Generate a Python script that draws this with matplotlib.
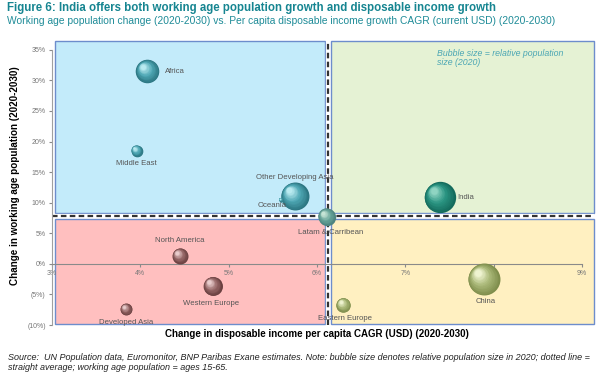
import numpy as np
import matplotlib.pyplot as plt
from matplotlib.patches import Rectangle
from matplotlib.transforms import ScaledTranslation
from matplotlib.colors import to_rgb

plt.rcParams['font.family'] = ['Liberation Sans', 'DejaVu Sans']

regions = ['Africa', 'Middle East', 'Other Developing Asia', 'Oceania', 'India',
           'Latam & Carribean', 'North America', 'Western Europe', 'Developed Asia',
           'China', 'Eastern Europe']
income_cagr = [4.08, 3.96, 5.75, 5.59, 7.39, 6.11, 4.45, 4.82, 3.84, 7.89, 6.30]
pop_change = [31.5, 18.5, 11.1, 10.5, 10.9, 7.7, 1.3, -3.6, -7.4, -2.5, -6.7]
pop_rel = [139, 34, 196, 4, 246, 76, 64, 90, 36, 256, 53]
avg_x = 6.12
avg_y = 7.8

yticks = [-10, -5, 0, 5, 10, 15, 20, 25, 30, 35]
ytick_labels = ['(10%)', '(5%)', '0%', '5%', '10%', '15%', '20%', '25%', '30%', '35%']
xticks = [3, 4, 5, 6, 7, 8, 9]
xtick_labels = ['3%', '4%', '5%', '6%', '7%', '8%', '9%']

# colours per bubble group: rim, mid, highlight
teal = ('#2c7682', '#4ea7b4', '#b9eaf0')
india_c = ('#146b5c', '#2a9482', '#8fd4c2')
latam_c = ('#4e8580', '#6aa79c', '#c6e4d6')
mauve = ('#6a4040', '#9a6a6a', '#e8cccc')
olive = ('#7f8e4c', '#aab878', '#eef3d0')
bubble_cols = [teal, teal, teal, teal, india_c, latam_c, mauve, mauve, mauve, olive, olive]

# label offsets in points (dx, dy, ha)
lab_off = [(13, 0, 'left'), (0, -9.5, 'center'), (0, 13.5, 'center'), (4, -4.5, 'right'),
           (13, 0, 'left'), (3, -11, 'center'), (0, 11, 'center'), (-1, -12.5, 'center'),
           (0, -9.5, 'center'), (1, -16, 'center'), (1, -10, 'center')]


def mix(a, b, t):
    a = np.array(to_rgb(a))
    b = np.array(to_rgb(b))
    return tuple(a + (b - a) * t)


fig = plt.figure(figsize=(6.02, 3.75), dpi=100)
ax = fig.add_axes([0.0864, 0.1333, 0.9095, 0.76])
ax.set_xlim(3, 9.2)
ax.set_ylim(-10, 36.6)

# quadrant boxes
boxes = [(3.03, 8.3, 6.09, 36.5, '#c3ebfa'), (3.03, -9.8, 6.09, 7.35, '#ffbfbf'),
         (6.16, 8.3, 9.14, 36.5, '#e5f2d4'), (6.16, -9.8, 9.14, 7.35, '#fff0c1')]
for x0, y0, x1, y1, c in boxes:
    ax.add_patch(Rectangle((x0, y0), x1 - x0, y1 - y0, facecolor=c, edgecolor='#6d8dcc',
                           lw=1, zorder=0, clip_on=False))

# average lines
ax.plot([3, 9.14], [avg_y, avg_y], color='white', lw=3, zorder=2, solid_capstyle='butt')
ax.plot([3, 9.14], [avg_y, avg_y], color='#333333', lw=1.6, ls=(0, (2.5, 1.5)), zorder=3)
ax.plot([avg_x, avg_x], [-10, 36.5], color='white', lw=3, zorder=2, solid_capstyle='butt', clip_on=False)
ax.plot([avg_x, avg_x], [-10, 36.5], color='#333333', lw=1.6, ls=(0, (2.5, 1.5)), zorder=3, clip_on=False)

# spheres
n = 14
for i in range(len(regions)):
    rim, mid, hi = bubble_cols[i]
    s0 = pop_rel[i] * 2.07
    r_pt = np.sqrt(s0) / 2
    for k in range(n):
        f = 1 - k / n * 0.85
        t = k / (n - 1)
        if t < 0.5:
            c = mix(rim, mid, t / 0.5)
        else:
            c = mix(mid, hi, (t - 0.5) / 0.5)
        off = (1 - f) * r_pt * 0.5
        tr = ax.transData + ScaledTranslation(-off / 72, off / 72, fig.dpi_scale_trans)
        ax.scatter([income_cagr[i]], [pop_change[i]], s=s0 * f * f, color=c, lw=0,
                   transform=tr, zorder=5 + k * 0.01)
    dx, dy, ha = lab_off[i]
    ax.annotate(regions[i], (income_cagr[i], pop_change[i]), xytext=(dx, dy),
                textcoords='offset points', ha=ha, va='center', fontsize=5.6,
                color='#555555', zorder=8)

ax.text(7.36, 35.2, 'Bubble size = relative population\nsize (2020)', fontsize=6.3,
        style='italic', color='#4aa6b4', va='top', ha='left', linespacing=1.1)

# axes styling
for sp in ['top', 'right']:
    ax.spines[sp].set_visible(False)
ax.spines['left'].set_bounds(-10, 35)
ax.spines['left'].set_color('#a0a0a0')
ax.spines['left'].set_position(('data', 3))
ax.spines['bottom'].set_position(('data', 0))
ax.spines['bottom'].set_bounds(3, 9)
ax.spines['bottom'].set_color('#8a8a8a')
ax.spines['left'].set_zorder(4)
ax.spines['bottom'].set_zorder(4)
ax.set_yticks(yticks)
ax.set_yticklabels(ytick_labels)
ax.set_xticks(xticks)
ax.set_xticklabels(xtick_labels)
ax.tick_params(axis='both', labelsize=5, colors='#8a8a8a', labelcolor='#777777',
               length=2.5, width=0.8, pad=2)

fig.text(0.527, 0.109, 'Change in disposable income per capita CAGR (USD) (2020-2030)',
         fontsize=7.05, fontweight='bold', ha='center', va='center')
fig.text(0.025, 0.531, 'Change in working age population (2020-2030)', fontsize=7.1,
         fontweight='bold', rotation=90, ha='center', va='center')

fig.text(0.012, 0.978, 'Figure 6: India offers both working age population growth and disposable income growth',
         fontsize=8.3, fontweight='bold', color='#168591', ha='left', va='center')
fig.text(0.012, 0.943, 'Working age population change (2020-2030) vs. Per capita disposable income growth CAGR (current USD) (2020-2030)',
         fontsize=7.4, color='#1f8c98', ha='left', va='center')

fig.text(0.013, 0.048, 'Source:  UN Population data, Euromonitor, BNP Paribas Exane estimates. Note: bubble size denotes relative population size in 2020; dotted line =',
         fontsize=6.5, style='italic', color='#222222', ha='left', va='center')
fig.text(0.013, 0.019, 'straight average; working age population = ages 15-65.',
         fontsize=6.5, style='italic', color='#222222', ha='left', va='center')

fig.savefig('out.png', dpi=100)
